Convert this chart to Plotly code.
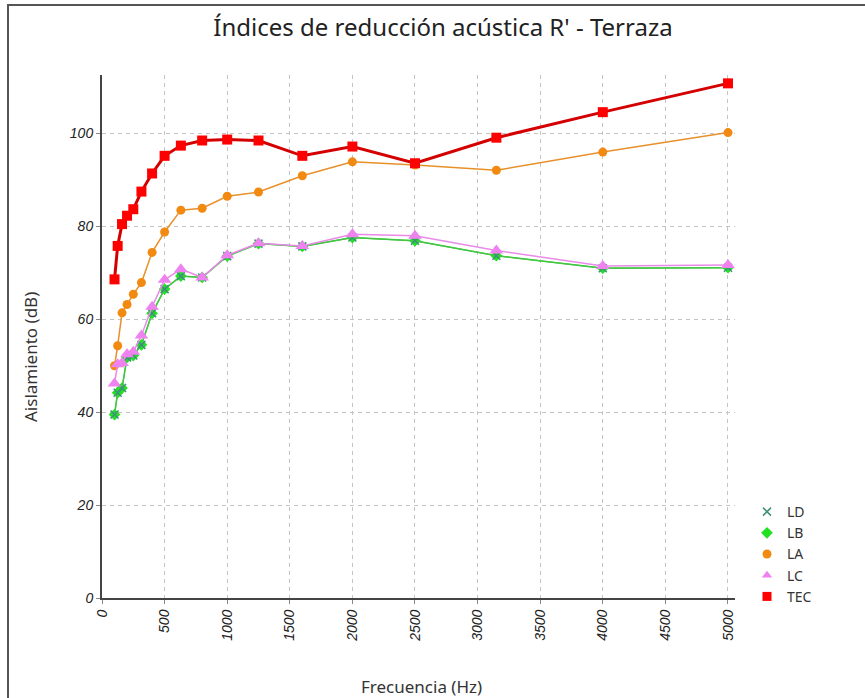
import plotly.graph_objects as go

# Third-octave band centre frequencies (Hz)
freqs = [100, 125, 160, 200, 250, 315, 400, 500, 630, 800, 1000, 1250,
         1600, 2000, 2500, 3150, 4000, 5000]

# Apparent sound reduction index R' (dB) per element
ld = [39.5, 44.2, 45.2, 51.8, 52.2, 54.5, 61.3, 66.5, 69.3, 69.0, 73.6, 76.3,
      75.7, 77.6, 76.9, 73.7, 71.0, 71.1]
lb = [39.5, 44.2, 45.2, 51.8, 52.2, 54.5, 61.3, 66.5, 69.3, 69.0, 73.6, 76.3,
      75.7, 77.6, 76.9, 73.7, 71.0, 71.1]
la = [50.0, 54.3, 61.4, 63.2, 65.4, 67.9, 74.4, 78.8, 83.5, 83.9, 86.5, 87.4,
      90.9, 93.9, 93.2, 92.1, 96.0, 100.2]
lc = [46.2, 50.3, 50.6, 52.5, 53.0, 56.5, 62.7, 68.5, 70.8, 69.0, 73.8, 76.4,
      75.8, 78.3, 78.0, 74.8, 71.5, 71.7]
tec = [68.6, 75.8, 80.5, 82.3, 83.7, 87.5, 91.4, 95.2, 97.4, 98.5, 98.7, 98.5,
       95.2, 97.2, 93.6, 99.1, 104.6, 110.8]

x_ticks = list(range(0, 5001, 500))
y_ticks = list(range(0, 101, 20))

series = [
    # name, values, line colour, marker colour, symbol, marker size, line width
    ("LD", ld, "#45c445", "#3f8f7c", "x-thin", 8, 1.2),
    ("LB", lb, "#3ccf3c", "#22e022", "diamond", 9, 1.5),
    ("LA", la, "#e8902a", "#f28a12", "circle", 9, 1.5),
    ("LC", lc, "#e98ae9", "#ee82ee", "triangle-up", 12, 1.5),
    ("TEC", tec, "#d40000", "#ff0000", "square", 10, 3),
]

fig = go.Figure()

# Curves drawn back to front: TEC on top
for name, vals, lcol, mcol, sym, msize, lw in [series[2], series[1], series[0], series[3], series[4]]:
    fig.add_trace(go.Scatter(
        x=freqs, y=vals, mode="lines+markers", name=name, showlegend=False,
        line=dict(color=lcol, width=lw),
        marker=dict(symbol=sym, size=msize, color=mcol,
                    line=dict(color=mcol, width=1.5 if sym == "x-thin" else 0)),
    ))

# Legend entries show the marker only
for name, vals, lcol, mcol, sym, msize, lw in series:
    fig.add_trace(go.Scatter(
        x=[None], y=[None], mode="markers", name=name, showlegend=True,
        marker=dict(symbol=sym, size=min(msize, 9), color=mcol,
                    line=dict(color=mcol, width=1.5 if sym == "x-thin" else 0)),
    ))

W, H = 865, 698
ml, mr, mt, mb = 102, 130, 75, 100
pw = W - ml - mr
ph = H - mt - mb

def px_x(p):
    return (p - ml) / pw

def px_y(p):
    return (H - mb - p) / ph

# Outer frame of the chart panel
fig.add_shape(type="rect", xref="paper", yref="paper",
              x0=px_x(8), y0=px_y(710), x1=px_x(880), y1=px_y(5),
              line=dict(color="#555555", width=2), fillcolor="rgba(0,0,0,0)",
              layer="below")

tick_font = dict(family="Liberation Sans, Arial, sans-serif", size=14,
                 color="#222222", style="italic")
label_font = dict(family="Noto Sans, Open Sans, sans-serif", size=17,
                  color="#333333")
grid_dash = "4px,4px"

# Axis titles
fig.add_annotation(text="Frecuencia (Hz)", xref="paper", yref="paper",
                   x=px_x(421), y=px_y(686), xanchor="center", yanchor="middle",
                   showarrow=False, font=label_font)
fig.add_annotation(text="Aislamiento (dB)", xref="paper", yref="paper",
                   x=px_x(30), y=px_y(357), xanchor="center", yanchor="middle",
                   textangle=-90, showarrow=False, font=label_font)

fig.update_layout(
    width=W, height=H,
    margin=dict(l=ml, r=mr, t=mt, b=mb, autoexpand=False),
    paper_bgcolor="white", plot_bgcolor="white",
    title=dict(text="Índices de reducción acústica R' - Terraza",
               x=(443 / W), xanchor="center", y=1 - 28 / H, yanchor="middle",
               font=dict(family="Noto Sans, Open Sans, sans-serif", size=24,
                         color="#222222")),
    xaxis=dict(
        range=[0, 5056], tickvals=x_ticks, ticktext=[str(v) for v in x_ticks],
        tickangle=-90, tickfont=tick_font, automargin=False,
        showline=True, linecolor="#444444", linewidth=2,
        ticks="outside", ticklen=4, tickcolor="#888888",
        showgrid=True, gridcolor="#c4c4c4", griddash=grid_dash, gridwidth=1,
        zeroline=False,
    ),
    yaxis=dict(
        range=[0, 112.6], tickvals=y_ticks, ticktext=[str(v) for v in y_ticks],
        tickfont=tick_font, automargin=False,
        showline=True, linecolor="#444444", linewidth=2,
        ticks="outside", ticklen=4, tickcolor="#888888",
        showgrid=True, gridcolor="#c4c4c4", griddash=grid_dash, gridwidth=1,
        zeroline=False,
    ),
    legend=dict(x=px_x(747), y=px_y(496), xanchor="left", yanchor="top",
                font=dict(family="Noto Sans, Open Sans, sans-serif", size=14,
                          color="#333333"),
                bgcolor="rgba(0,0,0,0)", itemwidth=30, tracegroupgap=0),
    showlegend=True,
)

fig.write_html("out.html")
